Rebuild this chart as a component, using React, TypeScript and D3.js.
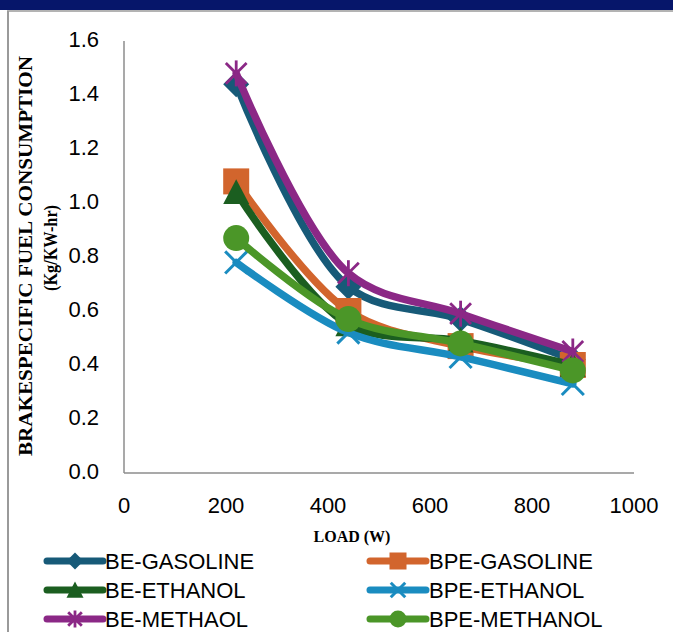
import React from "react";
import * as d3 from "d3";

const loads = [220, 440, 660, 880];
const seriesNames = ["BE-GASOLINE", "BPE-GASOLINE", "BE-ETHANOL", "BPE-ETHANOL", "BE-METHAOL", "BPE-METHANOL"];
const beGasoline = [1.44, 0.69, 0.57, 0.42];
const bpeGasoline = [1.08, 0.6, 0.47, 0.4];
const beEthanol = [1.04, 0.55, 0.49, 0.4];
const bpeEthanol = [0.78, 0.52, 0.43, 0.33];
const beMethaol = [1.48, 0.74, 0.59, 0.45];
const bpeMethanol = [0.87, 0.57, 0.48, 0.38];
const xTicks = [0, 200, 400, 600, 800, 1000];
const yTicks = [0, 0.2, 0.4, 0.6, 0.8, 1.0, 1.2, 1.4, 1.6];

const colors = ["#175a78", "#d2652d", "#1b5e20", "#1a8cc0", "#8b2886", "#4b9628"];
const markers = ["diamond", "square", "triangle", "x", "star", "circle"];
const allValues = [beGasoline, bpeGasoline, beEthanol, bpeEthanol, beMethaol, bpeMethanol];

function Marker({ type, x, y, size, color }: { type: string; x: number; y: number; size: number; color: string }) {
  const h = size / 2;
  if (type === "diamond") {
    return <path d={`M${x},${y - h}L${x + h},${y}L${x},${y + h}L${x - h},${y}Z`} fill={color} />;
  }
  if (type === "square") {
    return <rect x={x - h} y={y - h} width={size} height={size} fill={color} />;
  }
  if (type === "triangle") {
    return <path d={`M${x},${y - h}L${x + h},${y + h * 0.9}L${x - h},${y + h * 0.9}Z`} fill={color} />;
  }
  if (type === "circle") {
    return <circle cx={x} cy={y} r={h} fill={color} />;
  }
  if (type === "x") {
    const s = h * 0.85;
    return (
      <g stroke={color} strokeWidth={3}>
        <line x1={x - s} y1={y - s} x2={x + s} y2={y + s} />
        <line x1={x - s} y1={y + s} x2={x + s} y2={y - s} />
      </g>
    );
  }
  const s = h * 0.8;
  return (
    <g stroke={color} strokeWidth={2.8}>
      <line x1={x - s} y1={y - s} x2={x + s} y2={y + s} />
      <line x1={x - s} y1={y + s} x2={x + s} y2={y - s} />
      <line x1={x} y1={y - h} x2={x} y2={y + h} />
    </g>
  );
}

export default function App() {
  const W = 673;
  const H = 632;
  const x = d3.scaleLinear().domain([0, 1000]).range([124, 634]);
  const y = d3.scaleLinear().domain([0, 1.6]).range([473, 41]);
  const line = d3
    .line<[number, number]>()
    .x((d) => x(d[0]))
    .y((d) => y(d[1]))
    .curve(d3.curveCatmullRom.alpha(0.5));

  const legendRows = [561, 590, 619];
  const legendCols = [{ l0: 47, l1: 103, m: 75, t: 105 }, { l0: 370, l1: 426, m: 398, t: 429 }];

  return (
    <svg width={W} height={H} style={{ position: "absolute", left: 0, top: 0, display: "block" }}>
      <rect x={0} y={0} width={W} height={H} fill="#ffffff" />
      <rect x={0} y={0} width={W} height={10} fill="#06166a" />
      <line x1={7} y1={11} x2={W} y2={11} stroke="#9a9a9a" strokeWidth={1.5} />
      <line x1={8} y1={11} x2={8} y2={H} stroke="#9a9a9a" strokeWidth={2} />

      <line x1={x(0)} y1={y(1.6)} x2={x(0)} y2={y(0)} stroke="#8c8c8c" strokeWidth={1.5} />
      <line x1={x(0)} y1={y(0)} x2={x(1000)} y2={y(0)} stroke="#8c8c8c" strokeWidth={1.5} />

      {yTicks.map((t) => (
        <text key={t} x={99} y={y(t) - 2} textAnchor="end" dominantBaseline="central"
          fontFamily="'Liberation Sans', Arial, sans-serif" fontSize={22} fill="#000">
          {t.toFixed(1)}
        </text>
      ))}
      {xTicks.map((t) => (
        <text key={t} x={x(t)} y={505} textAnchor="middle" dominantBaseline="central"
          fontFamily="'Liberation Sans', Arial, sans-serif" fontSize={22} fill="#000">
          {t}
        </text>
      ))}

      <text transform="translate(32,256) rotate(-90)" textAnchor="middle" fontFamily="'Liberation Serif', 'Times New Roman', serif"
        fontWeight="bold" fontSize={19} textLength={400} lengthAdjust="spacingAndGlyphs" fill="#000">
        BRAKESPECIFIC FUEL CONSUMPTION
      </text>
      <text transform="translate(57,248) rotate(-90)" textAnchor="middle" fontFamily="'Liberation Serif', 'Times New Roman', serif"
        fontWeight="bold" fontSize={18} textLength={86} lengthAdjust="spacingAndGlyphs" fill="#000">
        (Kg/KW-hr)
      </text>
      <text x={352} y={542} textAnchor="middle" fontFamily="'Liberation Serif', 'Times New Roman', serif"
        fontWeight="bold" fontSize={16} fill="#000">
        LOAD (W)
      </text>

      {allValues.map((vals, i) => {
        const pts = loads.map((l, j) => [l, vals[j]] as [number, number]);
        return (
          <g key={seriesNames[i]}>
            <path d={line(pts) || ""} fill="none" stroke={colors[i]} strokeWidth={7.5} strokeLinejoin="round" strokeLinecap="round" />
            {pts.map((p, j) => (
              <Marker key={j} type={markers[i]} x={x(p[0])} y={y(p[1])} size={26} color={colors[i]} />
            ))}
          </g>
        );
      })}

      {seriesNames.map((name, i) => {
        const col = legendCols[i % 2];
        const ry = legendRows[Math.floor(i / 2)];
        return (
          <g key={name}>
            <line x1={col.l0} y1={ry} x2={col.l1} y2={ry} stroke={colors[i]} strokeWidth={7} strokeLinecap="round" />
            <Marker type={markers[i]} x={col.m} y={ry} size={17} color={colors[i]} />
            <text x={col.t} y={ry} dominantBaseline="central" fontFamily="'Liberation Sans', Arial, sans-serif"
              fontSize={22} fill="#000">
              {name}
            </text>
          </g>
        );
      })}
    </svg>
  );
}
